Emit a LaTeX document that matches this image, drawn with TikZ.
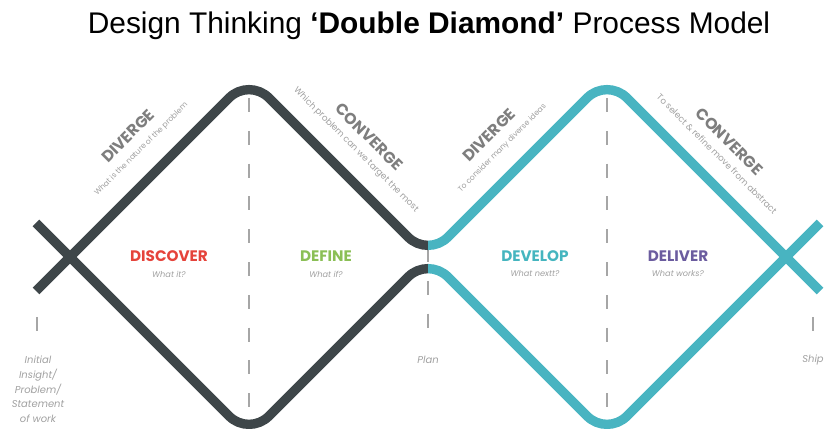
\documentclass[tikz,border=0pt]{standalone}
\usepackage{fontspec}
\setmainfont{Poppins}
\newfontfamily\titlefont{Liberation Sans}
\usetikzlibrary{positioning}

\definecolor{waveDark}{HTML}{3E4649}
\definecolor{waveTeal}{HTML}{48B4C1}
\definecolor{discoverRed}{HTML}{E5433B}
\definecolor{defineGreen}{HTML}{8BBF56}
\definecolor{developTeal}{HTML}{45B5BF}
\definecolor{deliverPurple}{HTML}{6B5C9F}
\definecolor{labelGray}{HTML}{7E7E7E}
\definecolor{noteGray}{HTML}{A0A0A0}

\newcommand{\divnote}[1]{{\normalfont\fontsize{6.5}{8}\selectfont\color{noteGray}#1}}
\newcommand{\convnote}[1]{{\normalfont\fontsize{7.5}{9}\selectfont\color{noteGray}#1}}

\begin{document}
\begin{tikzpicture}[
    x=0.03cm, y=-0.03cm,
    wave/.style={line width=8pt, rounded corners=24pt},
    guide/.style={draw=gray!70, line width=1.4pt, dash pattern=on 12pt off 16pt},
    phase/.style={font=\bfseries\fontsize{13}{13}\selectfont},
    phasesub/.style={font=\itshape\fontsize{7}{7}\selectfont, text=noteGray},
    stage/.style={font=\bfseries\fontsize{13.5}{13}\selectfont, text=labelGray, align=center},
    milestone/.style={font=\itshape\fontsize{8.5}{12.5}\selectfont, text=noteGray, align=center}
]
    \useasboundingbox (0,0) rectangle (833,429);

    % === Title ===
    \node (title) at (429,26) {\titlefont\fontsize{25.5}{25.5}\selectfont Design Thinking \textbf{‘Double Diamond’} Process Model};

    % Wave corners
    \coordinate (inA) at (36,291);
    \coordinate (inB) at (36,223);
    \coordinate (peakA) at (249,78);
    \coordinate (troughA) at (249,436);
    \coordinate (plan) at (428,257);
    \coordinate (peakB) at (607,78);
    \coordinate (troughB) at (607,436);
    \coordinate (outA) at (820,291);
    \coordinate (outB) at (820,223);

    % === Phase boundaries ===
    \draw[guide] (249,98) -- (249,418);
    \draw[guide] (607,98) -- (607,418);
    \draw[guide] (428,248) -- (428,332);
    \draw[guide] (37,317) -- (37,332);
    \draw[guide] (813,317) -- (813,332);

    % === Diamonds (dark left of Plan, teal right of it) ===
    \foreach \from/\to/\wavecol in {0/428/waveDark, 428/833/waveTeal} {
        \begin{scope}
            \clip (\from,0) rectangle (\to,429);
            \draw[wave, \wavecol] (inA) -- (peakA) -- (plan) -- (peakB) -- (outA);
            \draw[wave, \wavecol] (inB) -- (troughA) -- (plan) -- (troughB) -- (outB);
        \end{scope}
    }

    % === Diverge / converge labels ===
    \node[stage, rotate=45] (divergeA) at (134,142) {DIVERGE\\[0pt]\divnote{What is the nature of the problem}};
    \node[stage, rotate=-45] (convergeA) at (363,143) {CONVERGE\\[0pt]\convnote{Which problem can we target the most}};
    \node[stage, rotate=45] (divergeB) at (495,141) {DIVERGE\\[0pt]\divnote{To consider many diverse ideas}};
    \node[stage, rotate=-45] (convergeB) at (724,147) {CONVERGE\\[0pt]\convnote{To select \& refine move from abstract}};

    % === Phases ===
    \node[phase, text=discoverRed] (discover) at (169,256) {DISCOVER};
    \node[phasesub, below=1pt of discover] (discoversub) {What it?};
    \node[phase, text=defineGreen] (define) at (326,256) {DEFINE};
    \node[phasesub, below=1pt of define] (definesub) {What if?};
    \node[phase, text=developTeal] (develop) at (535,256) {DEVELOP};
    \node[phasesub, below=1pt of develop] (developsub) {What nextt?};
    \node[phase, text=deliverPurple] (deliver) at (678,256) {DELIVER};
    \node[phasesub, below=1pt of deliver] (deliversub) {What works?};

    % === Milestones ===
    \node[milestone, anchor=north] (initial) at (38,352) {Initial\\Insight/\\Problem/\\Statement\\of work};
    \node[milestone] (planlabel) at (428,360) {Plan};
    \node[milestone] (ship) at (813,360) {Ship};

\end{tikzpicture}
\end{document}
